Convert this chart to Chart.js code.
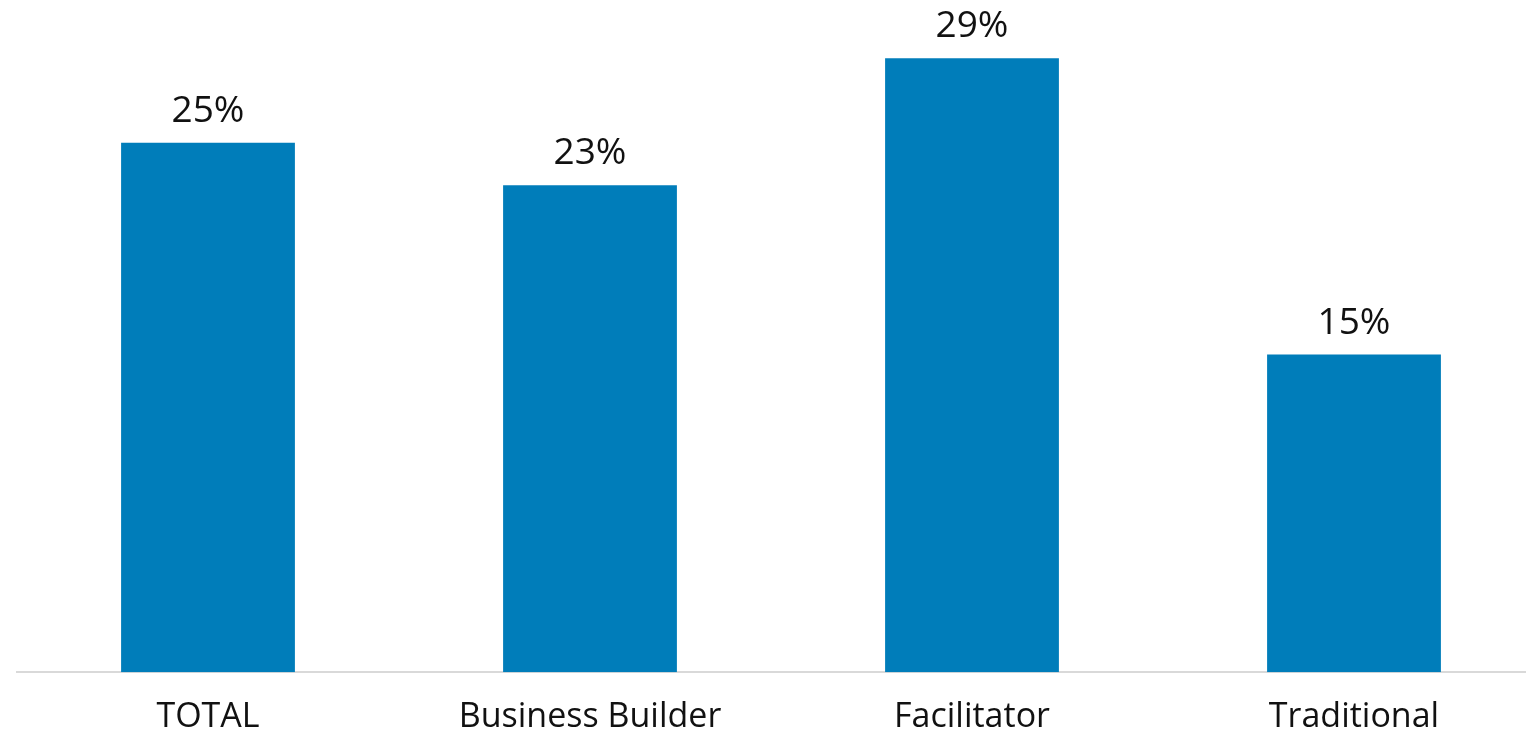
<!DOCTYPE html>
<html>
<head>
<meta charset="utf-8">
<script src="https://cdn.jsdelivr.net/npm/chart.js@4"></script>
<style>
  html, body { margin: 0; padding: 0; background: #fff; overflow: hidden; }
  #wrap { width: 1526px; height: 731px; overflow: hidden; }
</style>
</head>
<body>
<div id="wrap"><canvas id="myChart" width="1545" height="731"></canvas></div>
<script>
var categories = ['TOTAL', 'Business Builder', 'Facilitator', 'Traditional'];
var shares = [25, 23, 29, 15];

// draws the "25%" labels above each bar
var valueLabels = {
  id: 'valueLabels',
  afterDatasetsDraw: function(chart) {
    var ctx = chart.ctx;
    var meta = chart.getDatasetMeta(0);
    ctx.save();
    ctx.font = '37px "Open Sans", sans-serif';
    ctx.fillStyle = '#111';
    ctx.textAlign = 'center';
    ctx.textBaseline = 'alphabetic';
    meta.data.forEach(function(bar, i) {
      ctx.fillText(shares[i] + '%', bar.x, bar.y - 21);
    });
    ctx.restore();
  }
};

var ctx = document.getElementById('myChart');

var chart = new Chart(ctx, {
  type: 'bar',
  data: {
    labels: categories,
    datasets: [{
      data: shares,
      backgroundColor: '#007dba',
      barPercentage: 0.455,
      categoryPercentage: 1
    }]
  },
  options: {
    responsive: false,
    animation: false,
    layout: { padding: { top: 37, left: 17, right: 0, bottom: -24 } },
    plugins: {
      legend: { display: false },
      tooltip: { enabled: false }
    },
    scales: {
      x: {
        grid: { display: false },
        border: { color: '#d9d9d9', width: 2 },
        ticks: {
          color: '#111',
          padding: 17,
          font: { family: '"Open Sans", sans-serif', size: 34 }
        }
      },
      y: {
        display: false,
        min: 0,
        max: 30
      }
    }
  },
  plugins: [valueLabels]
});
</script>
</body>
</html>
